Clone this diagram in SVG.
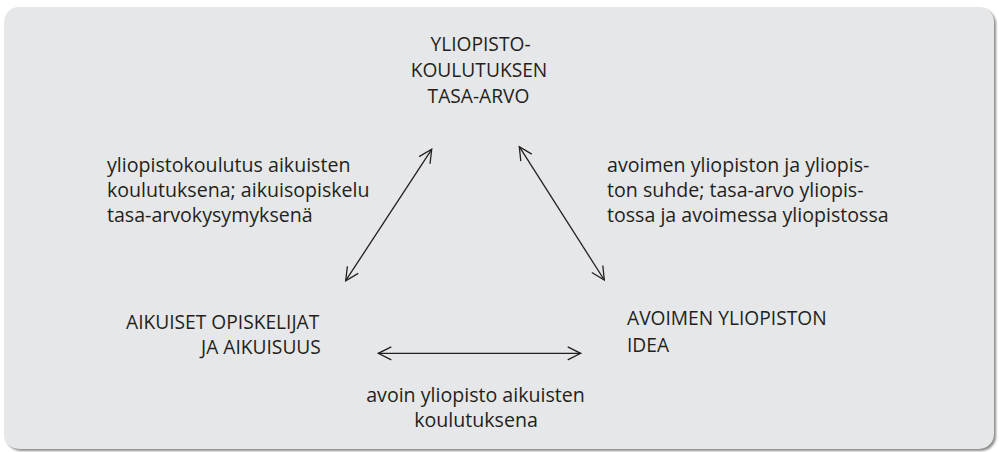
<svg xmlns="http://www.w3.org/2000/svg" width="999" height="452" viewBox="0 0 999 452">
<style>
text{font-family:"Open Sans","Noto Sans","Liberation Sans",sans-serif;font-size:19.6px;fill:#231f20}
.cap{font-size:19.2px}
.c{text-anchor:middle}
.conn line{stroke:#231f20;stroke-width:1.3;fill:none}
</style>
<defs>
<marker id="ah" markerUnits="userSpaceOnUse" viewBox="-14 -8 16 16" refX="0" refY="0" markerWidth="16" markerHeight="16" orient="auto-start-reverse">
<path d="M-13,-6.5 L0,0 L-13,6.5" fill="none" stroke="#231f20" stroke-width="1.3"/>
</marker>
<filter id="blur" x="-5%" y="-5%" width="110%" height="110%"><feGaussianBlur stdDeviation="1"/></filter>
</defs>
<rect width="999" height="452" fill="#ffffff"/>
<rect x="6" y="9" width="990" height="442" rx="15" fill="#8c8c8c" filter="url(#blur)"/>
<rect x="4" y="7" width="990" height="442" rx="15" fill="#e6e7e8"/>
<g class="conn">
<line x1="431.7" y1="149.3" x2="345.7" y2="280.7" marker-start="url(#ah)" marker-end="url(#ah)"/>
<line x1="519.3" y1="146.7" x2="604.3" y2="280" marker-start="url(#ah)" marker-end="url(#ah)"/>
<line x1="378.3" y1="353.3" x2="580.7" y2="353.3" marker-start="url(#ah)" marker-end="url(#ah)"/>
</g>
<g id="node-tasa-arvo">
<text class="cap c" x="480.5" y="51">YLIOPISTO-</text>
<text class="cap c" x="479" y="76.5">KOULUTUKSEN</text>
<text class="cap c" x="478.5" y="102.5">TASA-ARVO</text>
</g>
<g id="node-aikuiset">
<text class="cap" x="126" y="328.5">AIKUISET OPISKELIJAT</text>
<text class="cap" x="201" y="354">JA AIKUISUUS</text>
</g>
<g id="node-avoin">
<text class="cap" x="627" y="325">AVOIMEN YLIOPISTON</text>
<text class="cap" x="627" y="352">IDEA</text>
</g>
<g id="label-left">
<text x="107" y="172">yliopistokoulutus aikuisten</text>
<text x="107" y="197">koulutuksena; aikuisopiskelu</text>
<text x="107" y="222">tasa-arvokysymyksenä</text>
</g>
<g id="label-right">
<text x="607" y="172">avoimen yliopiston ja yliopis-</text>
<text x="607" y="197">ton suhde; tasa-arvo yliopis-</text>
<text x="607" y="222">tossa ja avoimessa yliopistossa</text>
</g>
<g id="label-bottom">
<text class="c" x="475.5" y="402">avoin yliopisto aikuisten</text>
<text class="c" x="476" y="427">koulutuksena</text>
</g>
</svg>
